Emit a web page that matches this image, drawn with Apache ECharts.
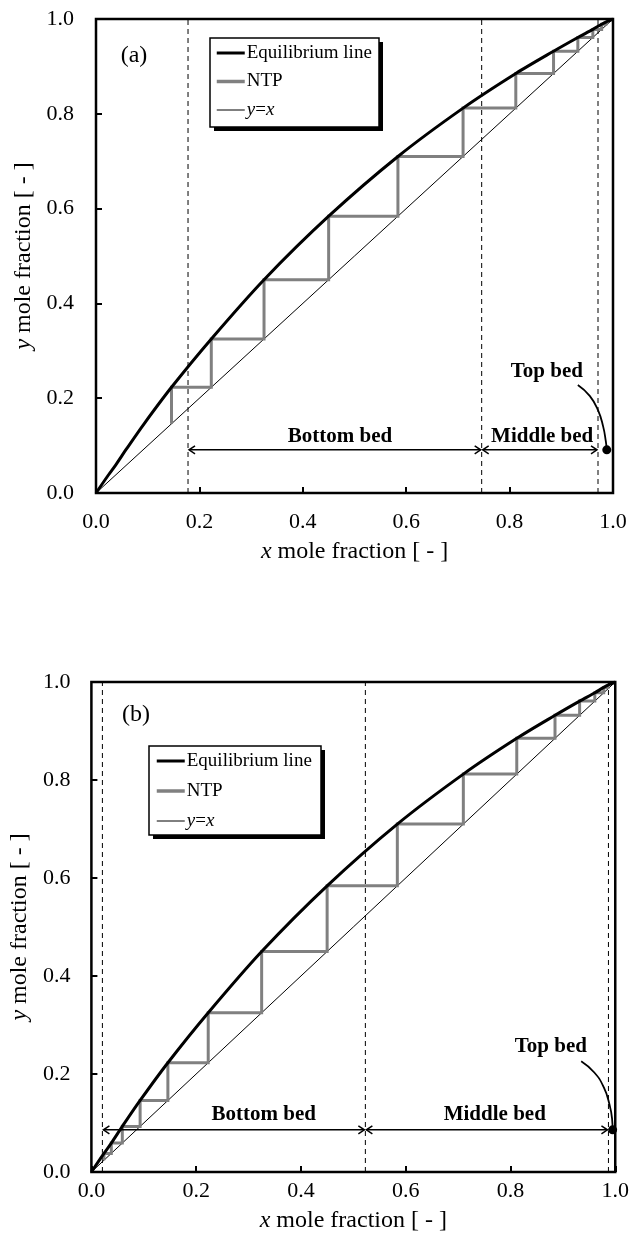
<!DOCTYPE html>
<html>
<head>
<meta charset="utf-8">
<script src="https://cdn.jsdelivr.net/npm/echarts@6/dist/echarts.min.js"></script>
<style>
  html, body { margin: 0; padding: 0; background: #fff; }
  #chart { width: 632px; height: 1252px; }
</style>
</head>
<body>
<div id="chart"></div>
<script>
// McCabe-Thiele style diagrams: equilibrium curve, y=x diagonal and stage staircase (NTP)

// Axis ticks (both axes, both panels)
const tickValues = [0, 0.2, 0.4, 0.6, 0.8, 1.0];

// Vapour-liquid equilibrium curve (x, y)
const eqX = [0, 0.024, 0.038, 0.059, 0.093, 0.146, 0.223, 0.325, 0.450, 0.584, 0.710, 0.812, 0.885, 0.932, 0.961, 0.978, 0.989, 1.0];
const eqY = [0, 0.038, 0.059, 0.093, 0.146, 0.223, 0.325, 0.450, 0.584, 0.710, 0.812, 0.885, 0.932, 0.961, 0.978, 0.989, 0.995, 1.0];

// Stage compositions (corners of the staircase on the diagonal)
const stagesA = [0.146, 0.223, 0.325, 0.450, 0.584, 0.710, 0.812, 0.885, 0.932, 0.961, 0.978, 0.989];
const stagesB = [0.024, 0.038, 0.059, 0.093, 0.146, 0.223, 0.325, 0.450, 0.584, 0.710, 0.812, 0.885, 0.932, 0.961, 0.978, 0.989];

// Bed boundaries (x) and the height of the bed arrows
const bedBoundsA = [0.178, 0.746, 0.971];
const bedBoundsB = [0.021, 0.523, 0.987];
const arrowYA = 0.091;
const arrowYB = 0.086;

// Bed labels: [x, y, text]
const bedLabelsA = [[0.472, 0.120, 'Bottom bed'], [0.863, 0.120, 'Middle bed'], [0.872, 0.257, 'Top bed']];
const bedLabelsB = [[0.329, 0.117, 'Bottom bed'], [0.770, 0.117, 'Middle bed'], [0.877, 0.255, 'Top bed']];

// Leader curve from the "Top bed" label to the top-bed point
const leaderXA = [0.932, 0.955, 0.971, 0.981, 0.986, 0.988];
const leaderYA = [0.228, 0.205, 0.175, 0.140, 0.110, 0.091];
const leaderXB = [0.935, 0.960, 0.978, 0.989, 0.994, 0.995];
const leaderYB = [0.226, 0.203, 0.173, 0.138, 0.108, 0.086];

// Panel tags
const panelTags = [[0.0735, 0.922, '(a)'], [0.085, 0.933, '(b)']];

const FONT = 'Liberation Serif';
const SERIES_EQ = 'Equilibrium line';
const SERIES_NTP = 'NTP';
const SERIES_DIAG = 'y=x';

const zip = (xs, ys) => xs.map((x, i) => [x, ys[i]]);

function staircase(stages) {
  const pts = [[stages[0], stages[0]]];
  for (let i = 0; i < stages.length - 1; i++) {
    pts.push([stages[i], stages[i + 1]]);
    pts.push([stages[i + 1], stages[i + 1]]);
  }
  return pts;
}

function axisCommon(gridIndex, isX, labelMargin, nameGap) {
  return {
    type: 'value',
    gridIndex: gridIndex,
    min: tickValues[0],
    max: tickValues[tickValues.length - 1],
    interval: tickValues[1] - tickValues[0],
    axisLine: { show: false },
    axisTick: { show: true, inside: true, length: 6, lineStyle: { color: '#000', width: 2 } },
    splitLine: { show: false },
    axisLabel: {
      color: '#000', fontFamily: FONT, fontSize: 22, margin: labelMargin,
      formatter: v => v.toFixed(1)
    },
    name: isX ? '{i|x} mole fraction [ - ]' : '{i|y} mole fraction [ - ]',
    nameLocation: 'middle',
    nameGap: nameGap,
    nameTextStyle: {
      color: '#000', fontFamily: FONT, fontSize: 24,
      rich: { i: { fontStyle: 'italic', fontFamily: FONT, fontSize: 24, color: '#000' } }
    }
  };
}

function panelSeries(p, stages, bounds, arrowY, labels, lx, ly, tag) {
  const arrows = [[bounds[0], bounds[1], arrowY], [bounds[1], bounds[2], arrowY]];
  const series = [
    {
      name: SERIES_DIAG, type: 'line', xAxisIndex: p, yAxisIndex: p,
      data: [[0, 0], [1, 1]], symbol: 'none', silent: true, color: '#000',
      lineStyle: { color: '#000', width: 1 }, z: 3
    },
    {
      name: SERIES_NTP, type: 'line', xAxisIndex: p, yAxisIndex: p,
      data: staircase(stages), symbol: 'none', silent: true, color: '#808080',
      lineStyle: { color: '#808080', width: 3, join: 'miter' }, z: 4
    },
    {
      name: SERIES_EQ, type: 'line', xAxisIndex: p, yAxisIndex: p,
      data: zip(eqX, eqY), symbol: 'none', smooth: 0.3, silent: true, color: '#000',
      lineStyle: { color: '#000', width: 3 }, z: 5
    }
  ];
  bounds.forEach(b => {
    series.push({
      type: 'line', xAxisIndex: p, yAxisIndex: p, data: [[b, 0], [b, 1]],
      symbol: 'none', silent: true,
      lineStyle: { color: '#000', width: 1, type: [5, 4] }, z: 2
    });
  });
  series.push({
    type: 'custom', xAxisIndex: p, yAxisIndex: p, data: arrows, silent: true, z: 6,
    encode: { x: [0, 1], y: 2 },
    renderItem: (params, api) => {
      const y = api.value(2);
      const a = api.coord([api.value(0), y]);
      const b = api.coord([api.value(1), y]);
      const w = 7, h = 4;
      const st = { stroke: '#000', fill: null, lineWidth: 1.5 };
      return {
        type: 'group',
        children: [
          { type: 'line', shape: { x1: a[0] + 1, y1: a[1], x2: b[0] - 1, y2: b[1] }, style: st },
          { type: 'polyline', shape: { points: [[a[0] + w, a[1] - h], [a[0] + 1, a[1]], [a[0] + w, a[1] + h]] }, style: st },
          { type: 'polyline', shape: { points: [[b[0] - w, b[1] - h], [b[0] - 1, b[1]], [b[0] - w, b[1] + h]] }, style: st }
        ]
      };
    }
  });
  series.push({
    type: 'line', xAxisIndex: p, yAxisIndex: p, data: zip(lx, ly),
    symbol: 'none', smooth: 0.5, silent: true,
    lineStyle: { color: '#000', width: 1.8 }, z: 6
  });
  series.push({
    type: 'scatter', xAxisIndex: p, yAxisIndex: p,
    data: [[lx[lx.length - 1], ly[ly.length - 1]]],
    symbol: 'circle', symbolSize: 9, silent: true,
    itemStyle: { color: '#000', opacity: 1 }, z: 7
  });
  series.push({
    type: 'scatter', xAxisIndex: p, yAxisIndex: p, data: labels,
    symbolSize: 1, silent: true, itemStyle: { color: 'rgba(0,0,0,0)', opacity: 1 }, z: 8,
    label: {
      show: true, position: 'inside', formatter: d => d.data[2], opacity: 1,
      color: '#000', fontFamily: FONT, fontWeight: 'bold', fontSize: 21
    }
  });
  series.push({
    type: 'scatter', xAxisIndex: p, yAxisIndex: p, data: [tag],
    symbolSize: 1, silent: true, itemStyle: { color: 'rgba(0,0,0,0)', opacity: 1 }, z: 8,
    label: {
      show: true, position: 'inside', formatter: d => d.data[2], opacity: 1,
      color: '#000', fontFamily: FONT, fontSize: 24
    }
  });
  return series;
}

// Legend items (line icons only, no point symbols); the framed box is drawn as graphics
function legendFor(left, top, gap) {
  return {
    left: left, top: top, orient: 'vertical', z: 10,
    data: [
      { name: SERIES_EQ, lineStyle: { width: 3, color: '#000' } },
      { name: SERIES_NTP, lineStyle: { width: 3.5, color: '#808080' } },
      { name: SERIES_DIAG, lineStyle: { width: 1, color: '#000' } }
    ],
    itemWidth: 28, itemHeight: 14, itemGap: gap,
    padding: 0,
    itemStyle: { opacity: 0 },
    selectedMode: false,
    formatter: name => name === SERIES_DIAG ? '{i|y}={i|x}' : name,
    textStyle: {
      color: '#000', fontFamily: FONT, fontSize: 19, lineHeight: 20, padding: [0, 0, 0, -3],
      rich: { i: { fontStyle: 'italic', fontFamily: FONT, fontSize: 19, lineHeight: 20, color: '#000' } }
    }
  };
}

function legendFrame(x, y, w, h) {
  return [
    { type: 'rect', z: 1, silent: true, shape: { x: x + 4, y: y + 4, width: w, height: h }, style: { fill: '#000' } },
    { type: 'rect', z: 2, silent: true, shape: { x: x, y: y, width: w, height: h }, style: { fill: '#fff', stroke: '#000', lineWidth: 1.5 } }
  ];
}

const chart = echarts.init(document.getElementById('chart'), null, { renderer: 'canvas' });
chart.setOption({
  animation: false,
  backgroundColor: '#fff',
  grid: [
    { left: 96, top: 19, width: 517, height: 474, show: true, borderColor: '#000', borderWidth: 2.5, backgroundColor: 'rgba(0,0,0,0)' },
    { left: 89, top: 682, width: 530, height: 490, show: true, borderColor: '#000', borderWidth: 2.5, backgroundColor: 'rgba(0,0,0,0)' }
  ],
  xAxis: [axisCommon(0, true, 18, 47), axisCommon(1, true, 8, 37)],
  yAxis: [axisCommon(0, false, 22, 58), axisCommon(1, false, 21, 51)],
  legend: [legendFor(215, 43, 8.5), legendFor(155, 751, 10)],
  graphic: [].concat(legendFrame(210, 38, 169, 89), legendFrame(149, 746, 172, 89)),
  series: [].concat(
    panelSeries(0, stagesA, bedBoundsA, arrowYA, bedLabelsA, leaderXA, leaderYA, panelTags[0]),
    panelSeries(1, stagesB, bedBoundsB, arrowYB, bedLabelsB, leaderXB, leaderYB, panelTags[1])
  )
});
</script>
</body>
</html>
